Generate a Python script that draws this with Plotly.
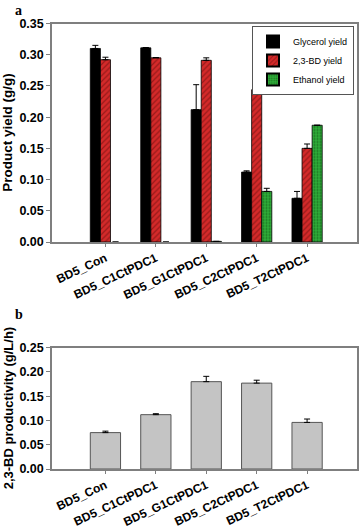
import plotly.graph_objects as go

strains = ["BD5_Con", "BD5_C1CtPDC1", "BD5_G1CtPDC1", "BD5_C2CtPDC1", "BD5_T2CtPDC1"]

glycerol_yield = [0.310, 0.311, 0.212, 0.112, 0.070]
glycerol_err = [0.005, 0.0005, 0.040, 0.002, 0.011]
bd_yield = [0.292, 0.295, 0.291, 0.244, 0.150]
bd_err = [0.004, 0.0005, 0.004, 0.001, 0.007]
ethanol_yield = [0.0, 0.0, 0.001, 0.081, 0.187]
ethanol_err = [0.0, 0.0, 0.0, 0.005, 0.0]

bd_productivity = [0.075, 0.112, 0.180, 0.177, 0.096]
bd_productivity_err = [0.003, 0.002, 0.011, 0.006, 0.007]

yticks_a = [0.00, 0.05, 0.10, 0.15, 0.20, 0.25, 0.30, 0.35]
yticks_b = [0.00, 0.05, 0.10, 0.15, 0.20, 0.25]

FONT = "Liberation Sans, Arial, sans-serif"
SERIF = "Liberation Serif, Times New Roman, serif"
FRAME = "#7f7f7f"
W, H = 360, 532


def err(arr, vals=None):
    if vals is not None:
        arr = [e if v > 0.01 else None for e, v in zip(arr, vals)]
    return dict(type="data", symmetric=False, array=arr, arrayminus=[0] * len(arr),
                color="black", thickness=1, width=3)


fig = go.Figure()
fig.add_trace(go.Bar(
    x=strains, y=glycerol_yield, name="Glycerol yield", xaxis="x", yaxis="y",
    marker=dict(color="black", line=dict(color="black", width=0.8)),
    error_y=err(glycerol_err)))
fig.add_trace(go.Bar(
    x=strains, y=bd_yield, name="2,3-BD yield", xaxis="x", yaxis="y",
    marker=dict(color="#d42a2a", line=dict(color="black", width=0.8),
                pattern=dict(shape="/", fgcolor="#5a0a0a", bgcolor="#d42a2a", size=4, solidity=0.3)),
    error_y=err(bd_err)))
fig.add_trace(go.Bar(
    x=strains, y=ethanol_yield, name="Ethanol yield", xaxis="x", yaxis="y",
    marker=dict(color="#1fa02a",
                line=dict(color="black", width=[0.8 if v > 0 else 0 for v in ethanol_yield]),
                pattern=dict(shape=".", fgcolor="#0a3a0a", bgcolor="#2fb03a", size=3, solidity=0.4)),
    error_y=err(ethanol_err, ethanol_yield)))
fig.add_trace(go.Bar(
    x=strains, y=bd_productivity, name="2,3-BD productivity", xaxis="x2", yaxis="y2",
    showlegend=False, width=0.6,
    marker=dict(color="#c4c4c4", line=dict(color="#555555", width=1)),
    error_y=err(bd_productivity_err)))

tickfont = dict(family=FONT, size=12.5, color="black", weight="bold")
xtickfont = dict(family=FONT, size=12, color="black", weight="bold")

xcommon = dict(type="category", range=[-1.06, 4.99], showline=True, linecolor=FRAME, linewidth=1.5,
               mirror=True, ticks="outside", ticklen=3, tickcolor=FRAME, tickangle=-25,
               tickfont=xtickfont, showgrid=False, zeroline=False, automargin=False)
ycommon = dict(showline=True, linecolor=FRAME, linewidth=1.5, mirror=True, ticks="outside",
               ticklen=4, tickcolor=FRAME, tickfont=tickfont, showgrid=False, zeroline=False,
               tickformat=".2f", automargin=False)

ya = [1 - 242 / H, 1 - 23.5 / H]
yb = [1 - 469 / H, 1 - 347.7 / H]

fig.update_layout(
    width=W, height=H,
    margin=dict(l=0, r=0, t=0, b=0, autoexpand=False),
    paper_bgcolor="white", plot_bgcolor="white",
    barmode="group", bargap=0.4, bargroupgap=0,
    font=dict(family=FONT, color="black"),
    xaxis=dict(domain=[52 / W, 357 / W], anchor="y", **xcommon),
    yaxis=dict(domain=ya, anchor="x", range=[0, 0.35], tickvals=yticks_a, **ycommon),
    xaxis2=dict(domain=[52 / W, 357 / W], anchor="y2", **xcommon),
    yaxis2=dict(domain=yb, anchor="x2", range=[0, 0.25], tickvals=yticks_b, **ycommon),
    legend=dict(x=354 / W, y=1 - 26 / H, xanchor="right", yanchor="top",
                bgcolor="white", bordercolor="#555555", borderwidth=1,
                font=dict(family=FONT, size=9, color="black"),
                tracegroupgap=0, itemsizing="constant", itemwidth=30),
    annotations=[
        dict(text="a", x=13 / W, y=1 - 1 / H, xref="paper", yref="paper", showarrow=False,
             xanchor="left", yanchor="top", font=dict(family=SERIF, size=14, weight="bold")),
        dict(text="b", x=13 / W, y=1 - 305 / H, xref="paper", yref="paper", showarrow=False,
             xanchor="left", yanchor="top", font=dict(family=SERIF, size=14, weight="bold")),
        dict(text="Product yield (g/g)", x=8 / W, y=sum(ya) / 2, xref="paper", yref="paper",
             showarrow=False, textangle=-90, xanchor="center", yanchor="middle",
             font=dict(family=FONT, size=13.5, weight="bold")),
        dict(text="2,3-BD productivity (g/L/h)", x=8 / W, y=sum(yb) / 2, xref="paper", yref="paper",
             showarrow=False, textangle=-90, xanchor="center", yanchor="middle",
             font=dict(family=FONT, size=13, weight="bold")),
    ],
)

fig.write_html("out.html", config={"displayModeBar": False},
               post_script="document.body.style.margin='0';")
